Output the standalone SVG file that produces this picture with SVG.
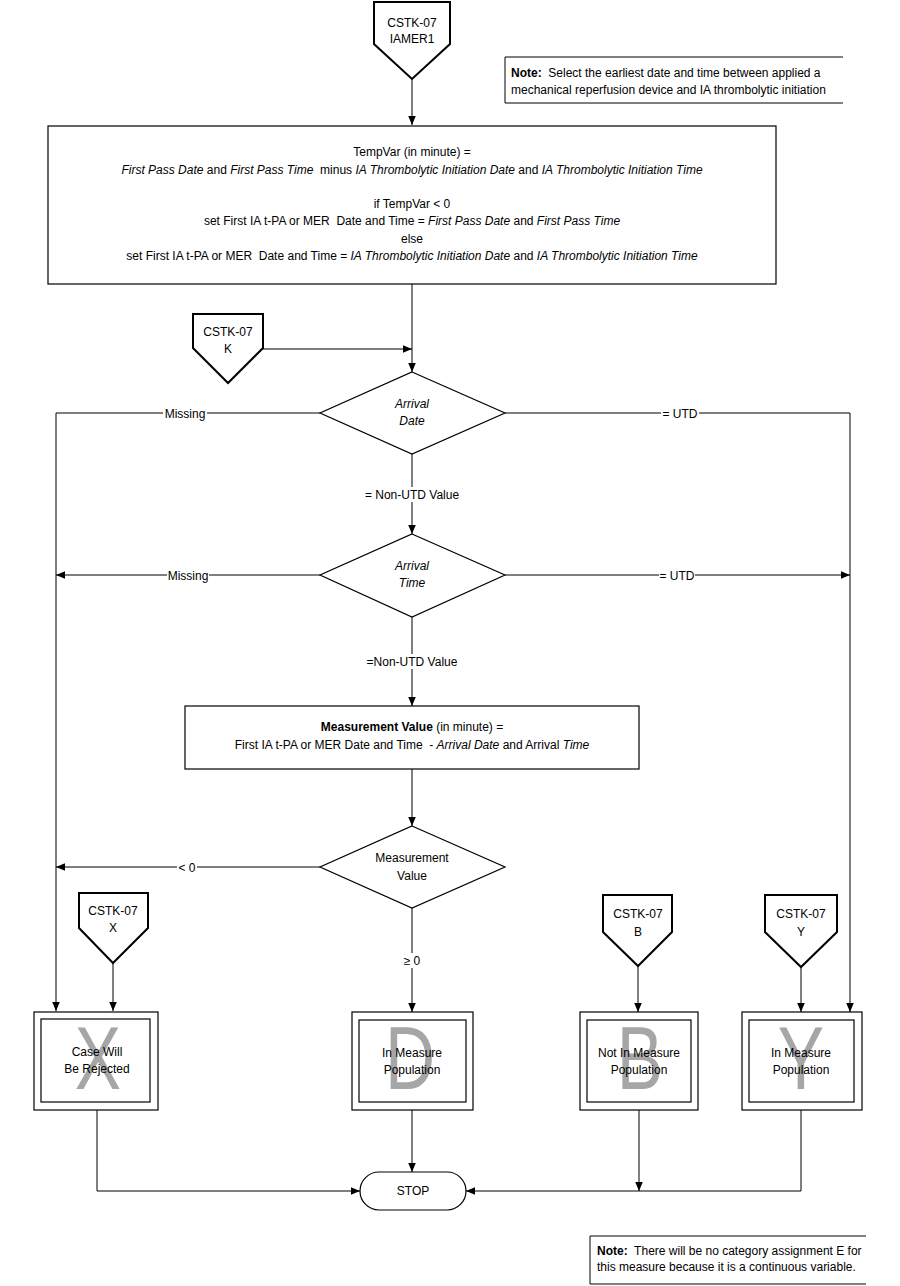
<svg xmlns="http://www.w3.org/2000/svg" width="900" height="1286" viewBox="0 0 900 1286">
<defs>
<style>
.t{font-family:"Liberation Sans",Arial,sans-serif;font-size:12px;fill:#000;text-anchor:middle}
.l{text-anchor:start}
.i{font-style:italic}
.b{font-weight:bold}
.box{fill:#fff;stroke:#000;stroke-width:1.2}
.off{fill:#fff;stroke:#000;stroke-width:2}
.c{fill:none;stroke:#000;stroke-width:1}
.big{font-family:"Liberation Sans",Arial,sans-serif;font-size:89px;fill:#a6a6a6;text-anchor:middle}
.lbg{fill:#fff}
</style>
<marker id="ah" viewBox="0 0 10 10" refX="10" refY="5" markerWidth="9" markerHeight="9" markerUnits="userSpaceOnUse" orient="auto"><path d="M0,0.8 L10,5 L0,9.2 z" fill="#000"/></marker>
</defs>
<rect width="900" height="1286" fill="#fff"/>

<g id="connectors">
<path class="c" d="M412,79 V125" marker-end="url(#ah)"/>
<path class="c" d="M412,284 V372" marker-end="url(#ah)"/>
<path class="c" d="M263,349 H412" marker-end="url(#ah)"/>
<path class="c" d="M320,413 H56 V1011" marker-end="url(#ah)"/>
<path class="c" d="M505,413 H850 V1012" marker-end="url(#ah)"/>
<path class="c" d="M412,454 V534" marker-end="url(#ah)"/>
<path class="c" d="M320,575 H56" marker-end="url(#ah)"/>
<path class="c" d="M505,575 H850" marker-end="url(#ah)"/>
<path class="c" d="M412,617 V706" marker-end="url(#ah)"/>
<path class="c" d="M412,769 V826" marker-end="url(#ah)"/>
<path class="c" d="M320,867 H56" marker-end="url(#ah)"/>
<path class="c" d="M412,908 V1012" marker-end="url(#ah)"/>
<path class="c" d="M113,963 V1011" marker-end="url(#ah)"/>
<path class="c" d="M638,966 V1012" marker-end="url(#ah)"/>
<path class="c" d="M801,967 V1012" marker-end="url(#ah)"/>
<path class="c" d="M97,1110 V1191 H360" marker-end="url(#ah)"/>
<path class="c" d="M412,1110 V1172" marker-end="url(#ah)"/>
<path class="c" d="M639,1110 V1191" marker-end="url(#ah)"/>
<path class="c" d="M801,1110 V1191 H466" marker-end="url(#ah)"/>
<g id="labels">
<rect class="lbg" x="163" y="406" width="44" height="15"/>
<text class="t" x="185" y="418">Missing</text>
<rect class="lbg" x="661" y="406" width="38" height="15"/>
<text class="t" x="680" y="418">= UTD</text>
<rect class="lbg" x="364" y="487" width="96" height="15"/>
<text class="t" x="412" y="499">= Non-UTD Value</text>
<rect class="lbg" x="167" y="568" width="42" height="15"/>
<text class="t" x="188" y="580">Missing</text>
<rect class="lbg" x="659" y="568" width="36" height="15"/>
<text class="t" x="677" y="580">= UTD</text>
<rect class="lbg" x="367" y="654" width="90" height="15"/>
<text class="t" x="412" y="666">=Non-UTD Value</text>
<rect class="lbg" x="177" y="860" width="20" height="15"/>
<text class="t" x="187" y="872">&lt; 0</text>
<rect class="lbg" x="401" y="953" width="22" height="15"/>
<text class="t" x="412" y="965">≥ 0</text>
</g>
</g>

<g id="start">
<polygon class="off" points="374,2 450,2 450,44 412,79 374,44"/>
<text class="t" x="412" y="27">CSTK-07</text>
<text class="t" x="412" y="43">IAMER1</text>
</g>

<g id="note1">
<path d="M843,57 H505 V103 H843" fill="none" stroke="#000" stroke-width="1"/>
<text class="t l" x="511" y="77" xml:space="preserve"><tspan class="b">Note:</tspan>  Select the earliest date and time between applied a</text>
<text class="t l" x="511" y="94">mechanical reperfusion device and IA thrombolytic initiation</text>
</g>

<g id="tempvar">
<rect class="box" x="48" y="126" width="728" height="158"/>
<text class="t" x="412" y="156">TempVar (in minute) =</text>
<text class="t" x="412" y="174" xml:space="preserve"><tspan class="i">First Pass Date</tspan> and <tspan class="i">First Pass Time</tspan>  minus <tspan class="i">IA Thrombolytic Initiation Date</tspan> and <tspan class="i">IA Thrombolytic Initiation Time</tspan></text>
<text class="t" x="412" y="208">if TempVar &lt; 0</text>
<text class="t" x="412" y="225" xml:space="preserve">set First IA t-PA or MER  Date and Time = <tspan class="i">First Pass Date</tspan> and <tspan class="i">First Pass Time</tspan></text>
<text class="t" x="412" y="243">else</text>
<text class="t" x="412" y="260" xml:space="preserve">set First IA t-PA or MER  Date and Time = <tspan class="i">IA Thrombolytic Initiation Date</tspan> and <tspan class="i">IA Thrombolytic Initiation Time</tspan></text>
</g>

<g id="offK">
<polygon class="off" points="193,314 263,314 263,348 228,383 193,348"/>
<text class="t" x="228" y="336">CSTK-07</text>
<text class="t" x="228" y="353">K</text>
</g>

<g id="arrivalDate">
<polygon class="box" points="412,372 505,413 412,454 320,413"/>
<text class="t i" x="412" y="408">Arrival</text>
<text class="t i" x="412" y="425">Date</text>
</g>

<g id="arrivalTime">
<polygon class="box" points="412,534 505,575 412,617 320,575"/>
<text class="t i" x="412" y="570">Arrival</text>
<text class="t i" x="412" y="587">Time</text>
</g>

<g id="measure">
<rect class="box" x="185" y="706" width="454" height="63"/>
<text class="t" x="412" y="731"><tspan class="b">Measurement Value</tspan> (in minute) =</text>
<text class="t" x="412" y="749" xml:space="preserve">First IA t-PA or MER Date and Time  - <tspan class="i">Arrival Date</tspan> and Arrival <tspan class="i">Time</tspan></text>
</g>

<g id="measureValue">
<polygon class="box" points="412,826 505,867 412,908 320,867"/>
<text class="t" x="412" y="862">Measurement</text>
<text class="t" x="412" y="880">Value</text>
</g>

<g id="offX">
<polygon class="off" points="79,893 148,893 148,928 113,963 79,928"/>
<text class="t" x="113" y="915">CSTK-07</text>
<text class="t" x="113" y="932">X</text>
</g>

<g id="offB">
<polygon class="off" points="603,895 672,895 672,932 638,966 603,932"/>
<text class="t" x="638" y="918">CSTK-07</text>
<text class="t" x="638" y="936">B</text>
</g>

<g id="offY">
<polygon class="off" points="765,895 837,895 837,932 801,967 765,932"/>
<text class="t" x="801" y="918">CSTK-07</text>
<text class="t" x="801" y="936">Y</text>
</g>

<g id="boxX">
<rect class="box" x="34" y="1012" width="124" height="98"/>
<rect class="box" x="41" y="1019" width="109" height="83"/>
<text class="big" transform="translate(98,1089) scale(0.78,1)">X</text>
<text class="t" x="97" y="1056">Case Will</text>
<text class="t" x="97" y="1073">Be Rejected</text>
</g>

<g id="boxD">
<rect class="box" x="352" y="1012" width="121" height="98"/>
<rect class="box" x="359" y="1020" width="107" height="82"/>
<text class="big" transform="translate(410,1089) scale(0.78,1)">D</text>
<text class="t" x="412" y="1057">In Measure</text>
<text class="t" x="412" y="1074">Population</text>
</g>

<g id="boxB">
<rect class="box" x="580" y="1012" width="118" height="98"/>
<rect class="box" x="587" y="1020" width="104" height="82"/>
<text class="big" transform="translate(640,1089) scale(0.78,1)">B</text>
<text class="t" x="639" y="1057">Not In Measure</text>
<text class="t" x="639" y="1074">Population</text>
</g>

<g id="boxY">
<rect class="box" x="742" y="1012" width="120" height="98"/>
<rect class="box" x="749" y="1020" width="105" height="82"/>
<text class="big" transform="translate(801,1089) scale(0.78,1)">Y</text>
<text class="t" x="801" y="1057">In Measure</text>
<text class="t" x="801" y="1074">Population</text>
</g>

<g id="stop">
<rect class="box" x="360" y="1172" width="106" height="38" rx="19" ry="19"/>
<text class="t" x="413" y="1195">STOP</text>
</g>

<g id="note2">
<path d="M866,1236 H590 V1284 H866" fill="none" stroke="#000" stroke-width="1"/>
<text class="t l" x="597" y="1255" xml:space="preserve"><tspan class="b">Note:</tspan>  There will be no category assignment E for</text>
<text class="t l" x="597" y="1271">this measure because it is a continuous variable.</text>
</g>
</svg>
